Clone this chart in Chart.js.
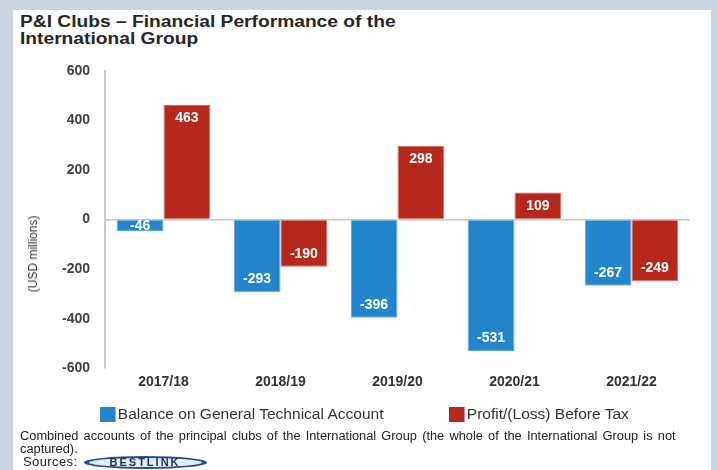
<!DOCTYPE html>
<html>
<head>
<meta charset="utf-8">
<script src="https://cdn.jsdelivr.net/npm/chart.js@4"></script>
<style>
    body { margin: 0; width: 718px; height: 470px; background: #cad5df; overflow: hidden; font-family: "Liberation Sans", Arial, sans-serif; }
    #panel { position: absolute; left: 13px; top: 10px; width: 698px; height: 460px; background: #fff; }
    #title { position: absolute; left: 20px; top: 13px; font-size: 16px; font-weight: bold; line-height: 17px; color: #262626; transform: scaleX(1.2); transform-origin: left top; white-space: nowrap; }
    #chartBox { position: absolute; left: 0; top: 0; width: 718px; height: 420px; }
    #yTitle { position: absolute; left: 33px; top: 254px; transform: translate(-50%, -50%) rotate(-90deg); font-size: 12px; color: #333; white-space: nowrap; }
    .legend { position: absolute; top: 406px; font-size: 14px; color: #333; white-space: nowrap; line-height: 16px; transform: scaleX(1.11); transform-origin: left center; }
    .legend span.box { display: inline-block; width: 14px; height: 15px; vertical-align: -3px; margin-right: 2px; }
    #note { position: absolute; left: 20px; top: 430px; font-size: 12px; line-height: 12.5px; color: #222; word-spacing: 1.5px; white-space: nowrap; transform: scaleX(1.068); transform-origin: left top; }
    #sources { position: absolute; left: 23px; top: 455px; font-size: 13px; color: #222; line-height: 14px; letter-spacing: 0.4px; }
    #logo { display: inline-block; width: 113px; margin-left: 2px; text-align: center; border: 2px solid #1f4f92; border-left-width: 5px; border-right-width: 5px; border-radius: 50%; font-weight: bold; font-size: 11px; letter-spacing: 2px; color: #1b2f5c; background: #e3edf8; line-height: 9px; }
</style>
</head>
<body>
<div id="panel"></div>
<div id="title">P&amp;I Clubs – Financial Performance of the<br>International Group</div>
<div id="chartBox"><canvas id="chart" width="718" height="420"></canvas></div>
<div id="yTitle">(USD millions)</div>
<div class="legend" style="left:100px"><span class="box" style="background:#2386cd"></span>Balance on General Technical Account</div>
<div class="legend" style="left:449px"><span class="box" style="background:#b6271c"></span>Profit/(Loss) Before Tax</div>
<div id="note">Combined accounts of the principal clubs of the International Group (the whole of the International Group is not<br>captured).</div>
<div id="sources">Sources: <span id="logo">BESTLINK</span></div>
<script>
const years = ["2017/18", "2018/19", "2019/20", "2020/21", "2021/22"];
const technicalBalance = [-46, -293, -396, -531, -267];
const profitBeforeTax = [463, -190, 298, 109, -249];
const yTicks = { min: -600, max: 600, step: 200 };

// white value labels inside the bars
const barLabels = {
    id: "barLabels",
    afterDatasetsDraw(chart) {
        const ctx = chart.ctx;
        ctx.save();
        ctx.font = "bold 14px 'Liberation Sans', Arial, sans-serif";
        ctx.fillStyle = "#fff";
        ctx.textAlign = "center";
        ctx.textBaseline = "middle";
        chart.data.datasets.forEach((ds, i) => {
            chart.getDatasetMeta(i).data.forEach((bar, j) => {
                const v = ds.data[j];
                let y;
                if (Math.abs(bar.y - bar.base) < 28) y = (bar.y + bar.base) / 2;
                else y = v >= 0 ? bar.y + 13 : bar.y - 13;
                ctx.fillText(String(v), bar.x, y);
            });
        });
        ctx.restore();
    }
};

new Chart(document.getElementById("chart"), {
    type: "bar",
    data: {
        labels: years,
        datasets: [
            {
                label: "Balance on General Technical Account",
                data: technicalBalance,
                backgroundColor: "#2386cd",
                borderColor: "#5ea7dd",
                borderWidth: 1
            },
            {
                label: "Profit/(Loss) Before Tax",
                data: profitBeforeTax,
                backgroundColor: "#b6271c",
                borderColor: "#d26a62",
                borderWidth: 1
            }
        ]
    },
    options: {
        responsive: false,
        animation: false,
        categoryPercentage: 0.8,
        barPercentage: 1.0,
        layout: { padding: { left: 20, right: 28, top: 71, bottom: 23 } },
        plugins: { legend: { display: false }, tooltip: { enabled: false } },
        scales: {
            x: {
                grid: { display: false, drawTicks: false },
                border: { display: false },
                ticks: { padding: 6, color: "#333", font: { family: "'Liberation Sans', Arial", size: 14, weight: "bold" } }
            },
            y: {
                min: yTicks.min,
                max: yTicks.max,
                afterFit: (scale) => { scale.width = 85; },
                ticks: { stepSize: yTicks.step, padding: 15, color: "#404040", font: { family: "'Liberation Sans', Arial", size: 14, weight: "bold" } },
                grid: {
                    drawTicks: false,
                    lineWidth: 1.5,
                    color: (c) => c.tick && c.tick.value === 0 ? "#c8c8c8" : "rgba(0,0,0,0)"
                },
                border: { display: true, color: "#c8c8c8", width: 2 }
            }
        }
    },
    plugins: [barLabels]
});
</script>
</body>
</html>
